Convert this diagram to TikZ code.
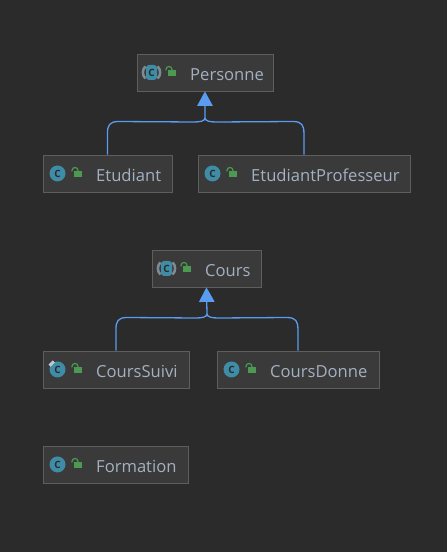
\documentclass[tikz,border=0pt]{standalone}
\usepackage{fontspec}
\setmainfont{Open Sans}
\usetikzlibrary{arrows.meta}
\definecolor{bgcol}{HTML}{2B2B2B}
\definecolor{boxcol}{HTML}{3A3A3A}
\definecolor{edgecol}{HTML}{5E5E5E}
\definecolor{textcol}{HTML}{A3B1C0}
\definecolor{linecol}{HTML}{5A9CF0}
\definecolor{iconcol}{HTML}{3F8CA6}
\definecolor{earcol}{HTML}{7C8B94}
\definecolor{lockcol}{HTML}{4C9A52}
\tikzset{
  classbox/.style={draw=edgecol,fill=boxcol,line width=0.9pt,anchor=north west,minimum height=37pt,inner sep=0pt},
  classtext/.style={anchor=base west,text=textcol,inner sep=0pt,font=\fontsize{16.6pt}{20pt}\selectfont},
  classicon/.style={circle,fill=iconcol,minimum size=16pt,inner sep=0pt,text=bgcol,font=\fontsize{10pt}{10pt}\selectfont\bfseries},
  abstracticon/.style={rectangle,rounded corners=3pt,fill=iconcol,minimum width=11pt,minimum height=15pt,inner sep=0pt,text=bgcol,font=\fontsize{10pt}{10pt}\selectfont\bfseries},
  inherit/.style={draw=linecol,line width=1.3pt},
  inherithead/.style={inherit,-{Triangle[width=15.5pt,length=14.5pt,fill=linecol]}},
  pics/lockicon/.style={code={
    \fill[lockcol] (-3.5,-2) rectangle (4.5,4);
    \draw[lockcol,line width=1.2pt] (-5.5,-2) -- (-5.5,-3) arc[start angle=180,end angle=360,radius=3] -- (0.5,-2);
  }}
}
\begin{document}
\begin{tikzpicture}[x=1pt,y=-1pt]
\useasboundingbox (0,0) rectangle (447,552);
\fill[bgcol] (0,0) rectangle (447,552);

% class boxes
\foreach \boxname/\boxx/\boxy/\boxw/\boxicon/\boxtext in {
  personne/136.5/53.5/136/abstracticon/Personne,
  etudiant/42.5/154.5/129/classicon/Etudiant,
  etudiantprof/197.5/154.5/212/classicon/EtudiantProfesseur,
  cours/151.5/249.5/109/abstracticon/Cours,
  courssuivi/42.5/350.5/146/classicon/CoursSuivi,
  coursdonne/216.5/350.5/162/classicon/CoursDonne,
  formation/42.5/445.5/145/classicon/Formation}
{
\node[classbox,minimum width=\boxw pt] (\boxname) at (\boxx,\boxy) {};
\node[\boxicon] (\boxname-icon) at ([xshift=15pt]\boxname.west) {C};
\pic at ([xshift=35pt]\boxname.west) {lockicon};
\node[classtext] (\boxname-text) at ([xshift=53.5pt,yshift=-8.5pt]\boxname.west) {\boxtext};
}

% abstract classes have ears on the icon
\foreach \boxname in {personne, cours}
{
\draw[earcol,line width=2.5pt] ([xshift=6.1pt,yshift=-6.1pt]\boxname-icon.center) arc[start angle=45,end angle=-45,radius=8.6];
\draw[earcol,line width=2.5pt] ([xshift=-6.1pt,yshift=-6.1pt]\boxname-icon.center) arc[start angle=135,end angle=225,radius=8.6];
}

% pin on CoursSuivi
\fill[textcol!70!white,rotate around={45:(courssuivi-icon.north west)}] ([xshift=-3pt,yshift=-1.5pt]courssuivi-icon.north west) rectangle ([xshift=3pt,yshift=1.5pt]courssuivi-icon.north west);

% inheritance
\coordinate (top1) at (205,118);
\coordinate (top2) at (207,314);
\draw[inherit] (etudiant.north) -- ++(0,-21) .. controls ++(0,-8) and ++(-9,0) .. ++(11,-12) -- (194,122) .. controls (200,122) and (205,121) .. (top1);
\draw[inherit] (etudiantprof.north) -- ++(0,-21) .. controls ++(0,-8) and ++(9,0) .. ++(-11,-12) -- (216,122) .. controls (210,122) and (205,121) .. (top1);
\draw[inherithead] (top1) -- (personne.south);
\draw[inherit] (courssuivi.north) -- ++(0,-21) .. controls ++(0,-8) and ++(-9,0) .. ++(11,-12) -- (196,318) .. controls (202,318) and (207,317) .. (top2);
\draw[inherit] (coursdonne.north) -- ++(0,-21) .. controls ++(0,-8) and ++(9,0) .. ++(-11,-12) -- (218,318) .. controls (212,318) and (207,317) .. (top2);
\draw[inherithead] (top2) -- (cours.south);

\end{tikzpicture}
\end{document}
